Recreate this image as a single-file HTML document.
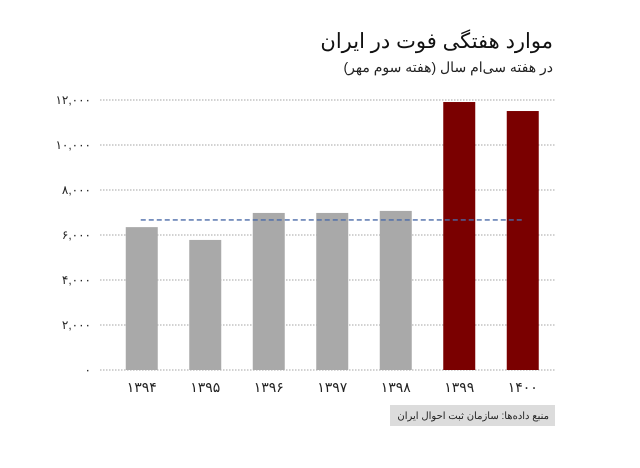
<!DOCTYPE html>
<html><head><meta charset="utf-8"><style>
body{margin:0;background:#fff;}
svg text{font-family:"Liberation Sans","Noto Sans CJK SC",sans-serif;}
</style></head><body>
<svg width="640" height="463" viewBox="0 0 640 463" xmlns="http://www.w3.org/2000/svg">
<rect width="640" height="463" fill="#fff"/>
<text x="553" y="48" text-anchor="start" font-size="21" fill="#111" direction="rtl">موارد هفتگی فوت در ایران</text>
<text x="553" y="72" text-anchor="start" font-size="14" fill="#222" direction="rtl">در هفته سی‌ام سال (هفته سوم مهر)</text>
<g id="grid"></g>
<g id="bars"></g>
<g id="ylabels"></g>
<g id="xlabels"></g>
<line id="avg" stroke="#4a6aa8" stroke-width="1.3" stroke-dasharray="5,3"/>
<rect x="390" y="405" width="165" height="21" fill="#dcdcdc"/>
<text x="549" y="419" text-anchor="start" font-size="10" fill="#222" direction="rtl">منبع داده‌ها: سازمان ثبت احوال ایران</text>
</svg>
<script>
const categories=["۱۳۹۴","۱۳۹۵","۱۳۹۶","۱۳۹۷","۱۳۹۸","۱۳۹۹","۱۴۰۰"];
const values=[6350,5780,6980,6980,7070,11910,11510];
const highlight=[false,false,false,false,false,true,true];
const average=6670;
const yTicks=[0,2000,4000,6000,8000,10000,12000];
const yTickLabels=["۰","۲,۰۰۰","۴,۰۰۰","۶,۰۰۰","۸,۰۰۰","۱۰,۰۰۰","۱۲,۰۰۰"];
const NS="http://www.w3.org/2000/svg";
const y0=370,yTop=100,yMax=12000;
const y=v=>y0-(v/yMax)*(y0-yTop);
const x0=110,step=63.5,bw=32;
const xc=i=>x0+step*(i+0.5);
const grid=document.getElementById('grid'),bars=document.getElementById('bars'),yl=document.getElementById('ylabels'),xl=document.getElementById('xlabels');
yTicks.forEach((t,i)=>{
 const l=document.createElementNS(NS,'line');
 
 
 l.setAttribute('x1',100);l.setAttribute('x2',555);l.setAttribute('y1',y(t));l.setAttribute('y2',y(t));
 l.setAttribute('stroke','#888');l.setAttribute('stroke-width','0.8');l.setAttribute('stroke-dasharray','1.5,1.5');
 grid.appendChild(l);
 const tx=document.createElementNS(NS,'text');
 
 
 tx.setAttribute('x',91);tx.setAttribute('y',y(t)+4);tx.setAttribute('text-anchor','end');tx.setAttribute('font-size','12');tx.setAttribute('fill','#222');
 tx.textContent=yTickLabels[i];yl.appendChild(tx);
});
categories.forEach((c,i)=>{
 const r=document.createElementNS(NS,'rect');
 
 
 r.setAttribute('x',xc(i)-bw/2);r.setAttribute('width',bw);r.setAttribute('y',y(values[i]));r.setAttribute('height',y0-y(values[i]));
 r.setAttribute('fill',highlight[i]?'#7a0000':'#a9a9a9');
 bars.appendChild(r);
 const tx=document.createElementNS(NS,'text');
 
 
 tx.setAttribute('x',xc(i));tx.setAttribute('y',392);tx.setAttribute('text-anchor','middle');tx.setAttribute('font-size','14');tx.setAttribute('fill','#222');
 tx.textContent=c;xl.appendChild(tx);
});
const a=document.getElementById('avg');
a.setAttribute('x1',xc(0)-1);a.setAttribute('x2',xc(categories.length-1)+1);a.setAttribute('y1',y(average));a.setAttribute('y2',y(average));
</script>
</body></html>
